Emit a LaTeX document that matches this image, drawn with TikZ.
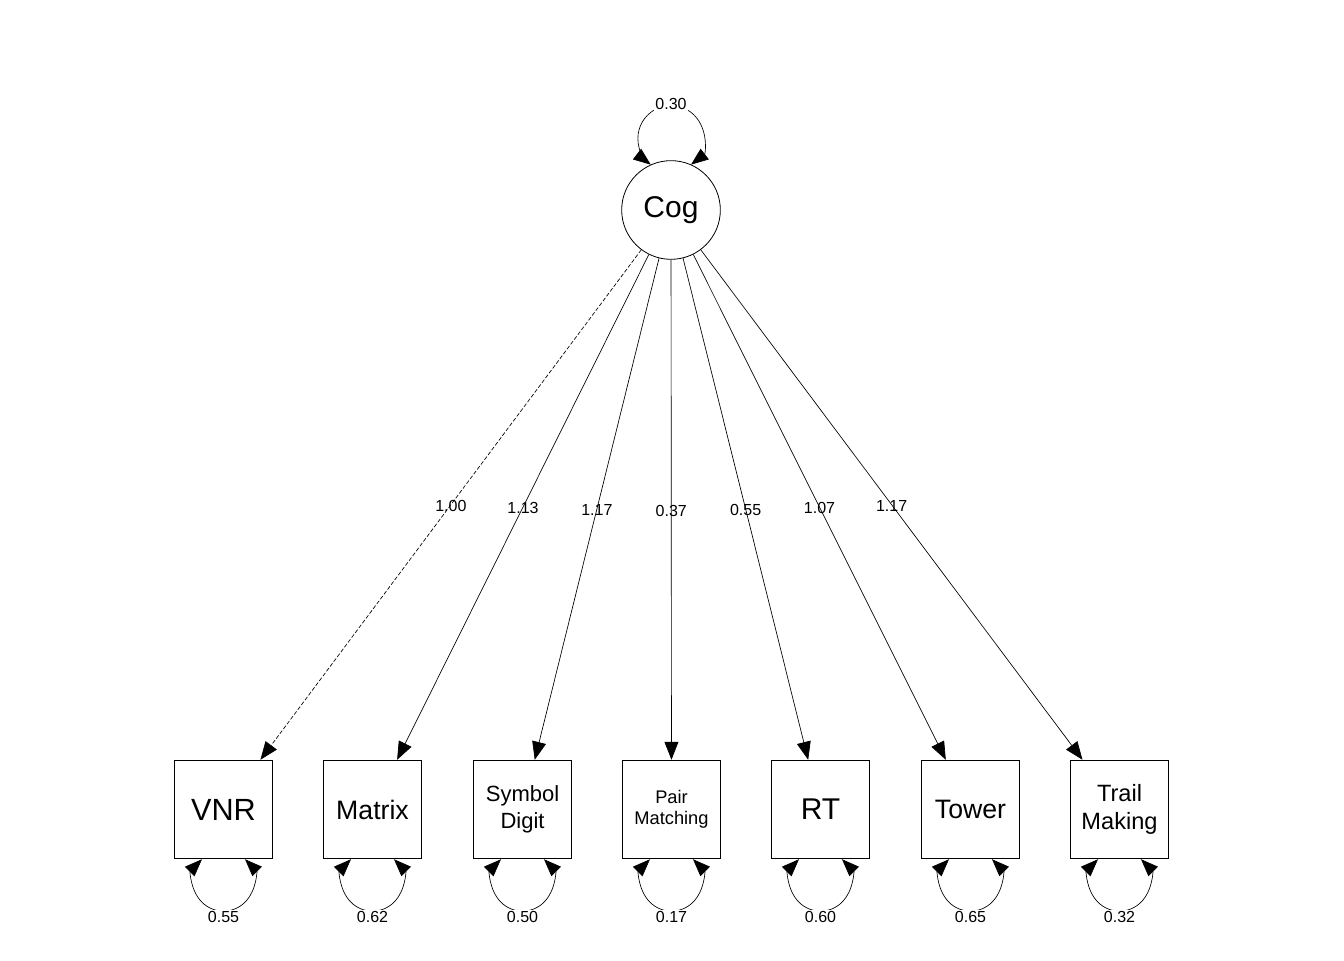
\documentclass[tikz,border=0pt]{standalone}
\usepackage{fontspec}
\setmainfont{Liberation Sans}
\usetikzlibrary{arrows.meta}
\begin{document}
\begin{tikzpicture}[x=0.75pt,y=0.75pt,
  every node/.style={inner sep=0pt},
  obsbox/.style={draw,line width=0.6pt,minimum width=74pt,minimum height=74pt,align=center},
  latent/.style={draw,circle,line width=0.6pt,minimum size=74pt,font=\fontsize{22.5}{26}\selectfont},
  arr/.style={line width=0.5pt,-{Triangle[length=13.5pt,width=10.5pt]}},
  looparr/.style={line width=0.5pt,{Triangle[length=13pt,width=10pt]}-{Triangle[length=13pt,width=10pt]}},
  elab/.style={font=\fontsize{12}{14}\selectfont,yshift=-1pt},
  looplab/.style={font=\fontsize{12}{14}\selectfont,fill=white,inner sep=1pt}
]
\useasboundingbox (0,0) rectangle (1344,960);
\node[latent] (cog) at (671,750) {\raisebox{-2pt}{Cog}};
\node[obsbox,font=\fontsize{23}{27}\selectfont] (vnr) at (223.5,150.5) {\raisebox{-1.5pt}{VNR}};
\node[obsbox,font=\fontsize{20}{24}\selectfont] (mat) at (372.5,150.5) {\raisebox{-1.5pt}{Matrix}};
\node[obsbox,font=\fontsize{16.5}{20}\selectfont] (sym) at (522.5,150.5) {Symbol\\Digit};
\node[obsbox,font=\fontsize{13.7}{15.8}\selectfont] (pair) at (671.5,150.5) {Pair\\Matching};
\node[obsbox,font=\fontsize{22.5}{26}\selectfont] (rt) at (820.5,150.5) {\raisebox{-1.5pt}{RT}};
\node[obsbox,font=\fontsize{20}{24}\selectfont] (tow) at (970.5,150.5) {\raisebox{-1.5pt}{Tower}};
\node[obsbox,font=\fontsize{17.7}{21}\selectfont] (trail) at (1119.5,150.5) {Trail\\Making};

\draw[arr,dash pattern=on 3pt off 1.5pt] (cog) -- node[elab]{1.00} (vnr);
\draw[arr] (cog) -- node[elab]{1.13} (mat);
\draw[arr] (cog) -- node[elab]{1.17} (sym);
\draw[arr] (cog) -- node[elab]{0.37} (pair);
\draw[arr] (cog) -- node[elab]{0.55} (rt);
\draw[arr] (cog) -- node[elab]{1.07} (tow);
\draw[arr] (cog) -- node[elab]{1.17} (trail);

% top loop
\draw[looparr] ([shift={(15pt,34pt)}]cog.center) arc[start angle=-52.4,end angle=232.4,radius=24.75pt];
\node[looplab] (lcog) at ([yshift=79.5pt]cog.center) {0.30};

% bottom loops
\foreach \n/\v in {vnr/0.55,mat/0.62,sym/0.50,pair/0.17,rt/0.60,tow/0.65,trail/0.32}{
  \draw[looparr] ([xshift=16.1pt]\n.south) arc[start angle=45,end angle=-225,radius=22.8pt];
  \node[looplab] (l\n) at ([yshift=-43.5pt]\n.south) {\v};
}
\end{tikzpicture}
\end{document}
